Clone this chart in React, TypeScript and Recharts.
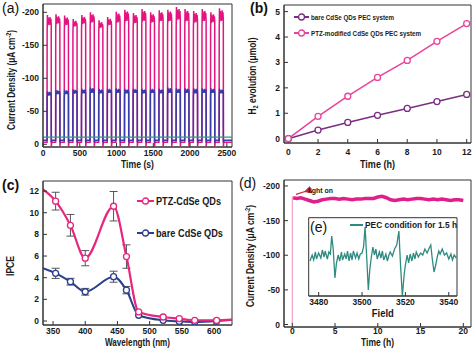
import React from "react";
import { LineChart, Line, XAxis, YAxis, ReferenceArea, ErrorBar } from "recharts";

const FONT = '"Liberation Sans", Arial, sans-serif';
const AXIS = "#333";
const TICK = { fontSize: 8.5, fontWeight: 700, fontFamily: FONT, fill: "#1a1a1a" };

// ---------- (a) transient photocurrent, on/off cycles ----------
const pulseStarts = [55, 172, 289, 406, 523, 640, 757, 874, 991, 1108, 1225, 1342, 1459, 1576, 1693, 1810, 1927, 2044, 2161, 2278, 2395];
const pinkPeak = [196, 197, 195, 190, 196, 200, 188, 193, 201, 204, 199, 205, 200, 203, 204, 208, 205, 202, 205, 200, 206];
const pinkLevel = [180, 182, 180, 178, 182, 184, 176, 180, 184, 186, 183, 186, 184, 186, 186, 188, 186, 184, 186, 184, 186];
const bluePeak = [80, 82, 82, 83, 84, 86, 84, 84, 85, 84, 84, 84, 84, 84, 86, 85, 85, 85, 85, 85, 84];
const blueLevel = [74, 76, 76, 77, 77, 78, 77, 78, 78, 77, 78, 77, 78, 77, 78, 78, 78, 77, 78, 78, 77];
const darkLevel = -11;
const pinkOff = -3;
const blueOff = -6;

const aRows: any[] = [{ t: 0, pink: pinkOff, blue: blueOff, teal: darkLevel }];
pulseStarts.forEach((s, i) => {
  const pk = pinkPeak[i], pl = pinkLevel[i], bk = bluePeak[i], bl = blueLevel[i];
  aRows.push(
    { t: s, pink: pinkOff, blue: blueOff, teal: darkLevel },
    { t: s + 1, pink: -(pl - 10), blue: -(bl - 6), teal: darkLevel },
    { t: s + 5, pink: -pk, blue: -bk, teal: darkLevel },
    { t: s + 10, pink: -pl, blue: -bl, teal: darkLevel },
    { t: s + 16, pink: -(pk - 4), blue: -(bk - 2), teal: darkLevel },
    { t: s + 22, pink: -(pl + 3), blue: -bl, teal: darkLevel },
    { t: s + 28, pink: -(pk - 8), blue: -(bk - 3), teal: darkLevel },
    { t: s + 34, pink: -(pl + 1), blue: -(bl + 1), teal: darkLevel },
    { t: s + 40, pink: -(pk - 3), blue: -(bk - 1), teal: darkLevel },
    { t: s + 46, pink: -(pl + 4), blue: -bl, teal: darkLevel },
    { t: s + 52, pink: -(pk - 6), blue: -(bk - 2), teal: darkLevel },
    { t: s + 57, pink: -(pl + 2), blue: -(bl + 1), teal: darkLevel },
    { t: s + 58, pink: 3, blue: -3, teal: darkLevel },
    { t: s + 64, pink: pinkOff, blue: blueOff, teal: darkLevel }
  );
});
aRows.push({ t: 2570, pink: pinkOff, blue: blueOff, teal: darkLevel });

// ---------- (b) H2 evolution ----------
const bTime = [0, 2, 4, 6, 8, 10, 12];
const bBare = [0, 0.34, 0.64, 0.92, 1.19, 1.46, 1.74];
const bPtz = [0, 0.88, 1.67, 2.41, 3.08, 3.83, 4.53];
const bRows = bTime.map((t, i) => ({ t, bare: bBare[i], ptz: bPtz[i] }));

// ---------- (c) IPCE ----------
const cWave = [334.4, 354, 377, 400, 444, 464, 483, 521, 546, 570, 604, 627.9];
const cPtz = [12.15, 11.07, 8.84, 5.8, 10.6, 5.95, 0.84, 0.37, 0.22, 0.06, 0.05, 0.12];
const cPtzErr = [null, 0.82, 1.0, 0.7, 1.36, 1.08, null, null, null, null, null, null];
const cBare = [4.87, 4.4, 3.63, 2.7, 4.09, 2.85, 0.53, 0.06, -0.03, -0.09, 0, 0.12];
const cBareErr = [null, 0.47, 0.31, 0.31, 0.51, 0.34, null, null, null, null, null, null];
const cMarked = [false, true, true, true, true, true, true, true, true, true, true, false];
const cRows = cWave.map((w, i) => ({
  w, ptz: cPtz[i], ptzErr: cPtzErr[i] ?? undefined, bare: cBare[i], bareErr: cBareErr[i] ?? undefined, mark: cMarked[i],
}));

// ---------- (d) long-term stability ----------
const dTime = [0.1, 0.5, 1, 1.5, 2, 2.5, 3, 3.5, 4, 4.5, 5, 5.5, 6, 6.5, 7, 7.5, 8, 8.5, 9, 9.5, 10, 10.5, 11, 11.5, 12, 12.5, 13, 13.5, 14, 14.5, 15, 15.5, 16, 16.5, 17, 17.5, 18, 18.5, 19, 19.5, 20];
const dCurrent = [-183, -182, -183, -181, -179, -177, -178, -180, -181, -182, -182, -181, -182, -181, -180, -181, -181, -182, -182, -182, -184, -185, -183, -180, -179, -180, -181, -180, -181, -182, -182, -181, -180, -181, -180, -181, -180, -179, -180, -180, -179];
const dRows = dTime.map((t, i) => ({ t, j: dCurrent[i] }));
const dRise = [{ t: 0, j: 0 }, { t: 0, j: -185 }];

// ---------- (e) EPR inset ----------
const eField = [3476, 3477, 3477.7, 3478.5, 3479, 3480, 3481, 3481.7, 3482.5, 3483, 3484, 3484.7, 3485.4, 3486, 3486.7, 3487.5, 3488.2, 3489, 3489.7, 3490.5, 3491, 3492, 3492.7, 3493.3, 3494, 3494.7, 3495.4, 3496, 3497, 3497.7, 3498.5, 3499.2, 3500, 3500.7, 3501.4, 3502.1, 3502.9, 3503.6, 3504.3, 3505, 3505.7, 3506.4, 3507, 3508, 3508.7, 3509.4, 3510, 3511, 3511.7, 3512.4, 3513, 3514, 3515, 3516, 3517, 3517.8, 3518.6, 3519.4, 3520, 3520.8, 3521.5, 3522.2, 3523, 3523.7, 3524.4, 3525, 3526, 3527, 3528, 3529, 3530, 3531, 3531.7, 3532.4, 3533.2, 3534, 3534.7, 3535.4, 3536, 3537, 3538, 3539, 3540, 3541, 3541.7, 3542.5, 3543.5];
const eSignal = [-4, 2, -3, 5, -2, 4, -1, 7, 0, 6, -2, 5, 3, 21, 8, -21, -6, 2, -4, 5, -3, 3, -2, 6, -4, 4, -3, 6, -1, 4, -2, 3, 4, 10, 30, 2, -33, -12, 0, 10, 2, 8, -2, 5, -1, 6, -3, 3, -4, 2, 5, 1, 8, 12, 26, -10, -39, -18, -8, 2, -6, 3, -4, 4, -2, 5, 0, 4, 2, 8, 4, 9, 12, -2, -15, -8, 0, 6, 3, 8, 2, 4, -2, 3, -3, 2, -1];
const eRows = eField.map((f, i) => ({ f, s: eSignal[i] }));

const TITLE = { fontFamily: FONT, fontSize: 10.5, fontWeight: 700, fill: "#1a1a1a" };

const VTitle = ({ viewBox, dx, dy, len, children }: any) => {
  const cx = viewBox.x + dx;
  const cy = viewBox.y + viewBox.height / 2 + dy;
  return (
    <text x={cx} y={cy} transform={`rotate(-90 ${cx} ${cy})`} textAnchor="middle" dominantBaseline="central"
      textLength={len} lengthAdjust="spacingAndGlyphs" style={TITLE}>
      {children}
    </text>
  );
};

const HTitle = ({ viewBox, y, len, children }: any) => (
  <text x={viewBox.x + viewBox.width / 2} y={y} textAnchor="middle" dominantBaseline="central"
    textLength={len} lengthAdjust="spacingAndGlyphs" style={TITLE}>
    {children}
  </text>
);

const CurrentTitle = (
  <>
    <tspan>Current Density (μA cm</tspan>
    <tspan dy={-3.5} fontSize={7}>-2</tspan>
    <tspan dy={3.5}>)</tspan>
  </>
);

function minorAxes(xd: number[], xm: number[], yd: number[], ym: number[], yRev = false) {
  return [
    <XAxis key="mx" xAxisId="m" type="number" domain={xd} allowDataOverflow ticks={xm} tick={false} tickSize={-2}
      axisLine={false} height={0} stroke={AXIS} />,
    <YAxis key="my" yAxisId="m" type="number" domain={yd} allowDataOverflow ticks={ym} tick={false} tickSize={-2}
      axisLine={false} width={0} reversed={yRev} stroke={AXIS} />,
  ];
}

const circleDot = (color: string) => (p: any) => {
  if (p.payload && p.payload.mark === false) return <g key={p.index} />;
  return <circle key={p.index} cx={p.cx} cy={p.cy} r={3} fill="#fff" stroke={color} strokeWidth={1.3} />;
};

// legend entry: line + open circle sample, then squeezed bold text
const LegendRow = ({ color, label, size, lineW, len, marker = true }: any) => (
  <svg width={lineW + len + 40} height={14} style={{ display: "block", overflow: "visible" }}>
    <line x1={0} y1={7} x2={lineW} y2={7} stroke={color} strokeWidth={2} />
    {marker && <circle cx={lineW / 2} cy={7} r={3} fill="#fff" stroke={color} strokeWidth={1.3} />}
    <text x={lineW + 2} y={7} dominantBaseline="central" textLength={len} lengthAdjust="spacingAndGlyphs"
      style={{ fontSize: size, fontWeight: 700, fontFamily: FONT, fill: "#1a1a1a" }}>
      {label}
    </text>
  </svg>
);

const PanelTag = ({ x, y, text, bold }: any) => (
  <div style={{ position: "absolute", left: x, top: y, fontFamily: FONT, fontSize: 14, fontWeight: bold ? 700 : 400, lineHeight: "15px", color: "#111" }}>
    {text}
  </div>
);

export default function App() {
  const aX = [0, 2570], aY = [-212.6, 4.1];
  const bX = [-0.29, 12.29], bY = [-0.17, 5.26];
  const cX = [334.4, 627.9], cY = [-0.37, 12.93];
  const dX = [-0.97, 20.9], dY = [-208.6, 3.6];
  const eX = [3475.4, 3543.8], eY = [-39, 39.3];

  return (
    <div style={{ position: "absolute", left: 0, top: 0, width: 474, height: 352, background: "#fff", overflow: "hidden" }}>
      {/* (a) */}
      <div style={{ position: "absolute", left: 0, top: 0 }}>
        <LineChart width={240} height={176} data={aRows} margin={{ top: 4, right: 8, left: 0, bottom: 0 }}>
          {minorAxes(aX, [250, 750, 1250, 1750, 2250], aY, [-175, -125, -75, -25], true)}
          <XAxis dataKey="t" type="number" domain={aX} allowDataOverflow ticks={[0, 500, 1000, 1500, 2000, 2500]}
            height={29} tickSize={-4} tickMargin={7} tick={TICK} stroke={AXIS}
            label={{ content: (p: any) => <HTitle viewBox={p.viewBox} y={164} len={33}>Time (s)</HTitle> }} />
          <YAxis type="number" domain={aY} allowDataOverflow reversed ticks={[-200, -150, -100, -50, 0]} width={43}
            tickSize={-4} tickMargin={8} tick={TICK} stroke={AXIS}
            label={{ content: (p: any) => <VTitle viewBox={p.viewBox} dx={11} dy={4.5} len={100}>{CurrentTitle}</VTitle> }} />
          <ReferenceArea x1={aX[0]} x2={aX[1]} y1={aY[0]} y2={aY[1]} fill="none" stroke={AXIS} ifOverflow="visible" />
          <Line dataKey="pink" stroke="#e3137f" strokeWidth={1.5} dot={false} isAnimationActive={false} />
          <Line dataKey="blue" stroke="#3a3aa6" strokeWidth={1.5} dot={false} isAnimationActive={false} />
          <Line dataKey="teal" stroke="#2a9a8c" strokeWidth={1.3} dot={false} isAnimationActive={false} />
        </LineChart>
      </div>

      {/* (b) */}
      <div style={{ position: "absolute", left: 237, top: 0 }}>
        <LineChart width={237} height={176} data={bRows} margin={{ top: 5, right: 3, left: 0, bottom: 0 }}>
          {minorAxes(bX, [1, 3, 5, 7, 9, 11], bY, [0.5, 1.5, 2.5, 3.5, 4.5])}
          <XAxis dataKey="t" type="number" domain={bX} allowDataOverflow ticks={[0, 2, 4, 6, 8, 10, 12]}
            height={33} tickSize={-4} tickMargin={10} tick={TICK} stroke={AXIS}
            label={{ content: (p: any) => <HTitle viewBox={p.viewBox} y={164} len={35}>Time (h)</HTitle> }} />
          <YAxis type="number" domain={bY} allowDataOverflow ticks={[0, 1, 2, 3, 4, 5]} width={47}
            tickSize={-4} tickMargin={8} tick={TICK} stroke={AXIS}
            label={{
              content: (p: any) => (
                <VTitle viewBox={p.viewBox} dx={15} dy={2} len={77}>
                  <tspan>H</tspan><tspan dy={3} fontSize={7}>2</tspan><tspan dy={-3}> evolution (μmol)</tspan>
                </VTitle>
              ),
            }} />
          <ReferenceArea x1={bX[0]} x2={bX[1]} y1={bY[0]} y2={bY[1]} fill="none" stroke={AXIS} ifOverflow="visible" />
          <Line dataKey="bare" stroke="#7a2e80" strokeWidth={1.5} dot={circleDot("#7a2e80")} isAnimationActive={false} />
          <Line dataKey="ptz" stroke="#e8449a" strokeWidth={1.5} dot={circleDot("#e8449a")} isAnimationActive={false} />
        </LineChart>
        <div style={{ position: "absolute", left: 57, top: 10 }}>
          <LegendRow color="#7a2e80" label="bare CdSe QDs PEC system" size={7.5} lineW={15} len={83} />
          <div style={{ height: 2 }} />
          <LegendRow color="#e8449a" label="PTZ-modified CdSe QDs PEC system" size={7.5} lineW={15} len={110} />
        </div>
      </div>

      {/* (c) */}
      <div style={{ position: "absolute", left: 0, top: 176 }}>
        <LineChart width={240} height={176} data={cRows} margin={{ top: 5, right: 8, left: 0, bottom: 0 }}>
          {minorAxes(cX, [375, 425, 475, 525, 575, 625], cY, [1, 3, 5, 7, 9, 11])}
          <XAxis dataKey="w" type="number" domain={cX} allowDataOverflow ticks={[350, 400, 450, 500, 550, 600]}
            height={27} tickSize={-4} tickMargin={7} tick={TICK} stroke={AXIS}
            label={{ content: (p: any) => <HTitle viewBox={p.viewBox} y={166} len={65}>Wavelength (nm)</HTitle> }} />
          <YAxis type="number" domain={cY} allowDataOverflow ticks={[0, 2, 4, 6, 8, 10, 12]} width={43}
            tickSize={-4} tickMargin={8} tick={TICK} stroke={AXIS}
            label={{ content: (p: any) => <VTitle viewBox={p.viewBox} dx={10} dy={13} len={20}>IPCE</VTitle> }} />
          <ReferenceArea x1={cX[0]} x2={cX[1]} y1={cY[0]} y2={cY[1]} fill="none" stroke={AXIS} ifOverflow="visible" />
          <Line dataKey="bare" type="monotone" stroke="#2c3f8c" strokeWidth={2} dot={circleDot("#2c3f8c")} isAnimationActive={false}>
            <ErrorBar dataKey="bareErr" direction="y" width={4} stroke="#555" strokeWidth={1} />
          </Line>
          <Line dataKey="ptz" type="monotone" stroke="#e6267f" strokeWidth={2.2} dot={circleDot("#e6267f")} isAnimationActive={false}>
            <ErrorBar dataKey="ptzErr" direction="y" width={4} stroke="#555" strokeWidth={1} />
          </Line>
        </LineChart>
        <div style={{ position: "absolute", left: 137, top: 18 }}>
          <LegendRow color="#e6267f" label="PTZ-CdSe QDs" size={10} lineW={17} len={65} />
          <div style={{ height: 18 }} />
          <LegendRow color="#2c3f8c" label="bare CdSe QDs" size={10} lineW={17} len={67} />
        </div>
      </div>

      {/* (d) */}
      <div style={{ position: "absolute", left: 237, top: 176 }}>
        <LineChart width={237} height={176} margin={{ top: 4, right: 3, left: 0, bottom: 0 }}>
          {minorAxes(dX, [2.5, 7.5, 12.5, 17.5], dY, [-175, -125, -75, -25], true)}
          <XAxis dataKey="t" type="number" domain={dX} allowDataOverflow ticks={[0, 5, 10, 15, 20]}
            height={25} tickSize={-4} tickMargin={5} tick={TICK} stroke={AXIS}
            label={{ content: (p: any) => <HTitle viewBox={p.viewBox} y={166} len={33}>Time (h)</HTitle> }} />
          <YAxis type="number" domain={dY} allowDataOverflow reversed ticks={[-200, -150, -100, -50, 0]} width={47}
            tickSize={-4} tickMargin={8} tick={TICK} stroke={AXIS}
            label={{ content: (p: any) => <VTitle viewBox={p.viewBox} dx={13} dy={2.5} len={102}>{CurrentTitle}</VTitle> }} />
          <ReferenceArea x1={dX[0]} x2={dX[1]} y1={dY[0]} y2={dY[1]} fill="none" stroke={AXIS} ifOverflow="visible" />
          <Line data={dRise} dataKey="j" stroke="#f08cbc" strokeWidth={1} dot={false} isAnimationActive={false} />
          <Line data={dRows} dataKey="j" stroke="#e0208a" strokeWidth={3.5} dot={false} isAnimationActive={false} />
        </LineChart>
        <svg width={237} height={176} style={{ position: "absolute", left: 0, top: 0, pointerEvents: "none" }}>
          <defs>
            <marker id="arr" markerWidth="6" markerHeight="6" refX="1" refY="3" orient="auto-start-reverse">
              <path d="M6,0 L0,3 L6,6 Z" fill="#c0283c" />
            </marker>
          </defs>
          <line x1={68} y1={15.5} x2={59} y2={18.3} stroke="#c0283c" strokeWidth={1.3} markerStart="url(#arr)" />
          <text x={71} y={14.5} dominantBaseline="central" textLength={25} lengthAdjust="spacingAndGlyphs"
            style={{ fontFamily: FONT, fontSize: 7.5, fontWeight: 700, fill: "#1a1a1a" }}>light on</text>
        </svg>
      </div>

      {/* (e) inset */}
      <div style={{ position: "absolute", left: 300, top: 210 }}>
        <LineChart width={165} height={110} data={eRows} margin={{ top: 7.7, right: 8, left: 8.7, bottom: 0 }}>
          <XAxis xAxisId="m" type="number" domain={eX} allowDataOverflow ticks={[3490, 3510, 3530]} tick={false}
            tickSize={-2} axisLine={false} height={0} stroke={AXIS} />
          <XAxis dataKey="f" type="number" domain={eX} allowDataOverflow ticks={[3480, 3500, 3520, 3540]}
            height={24} tickSize={-4} tickMargin={7} tick={TICK} stroke={AXIS}
            label={{ content: (p: any) => <HTitle viewBox={p.viewBox} y={103} len={22}>Field</HTitle> }} />
          <YAxis type="number" domain={eY} allowDataOverflow hide />
          <ReferenceArea x1={eX[0]} x2={eX[1]} y1={eY[0]} y2={eY[1]} fill="none" stroke={AXIS} ifOverflow="visible" />
          <Line dataKey="s" stroke="#2e8b80" strokeWidth={1.3} dot={false} isAnimationActive={false} />
        </LineChart>
        <div style={{ position: "absolute", left: 50, top: 8 }}>
          <LegendRow color="#2e8b80" label="PEC condition for 1.5 h" size={9} lineW={13} len={92} marker={false} />
        </div>
        <PanelTag x={10} y={10} text="(e)" />
      </div>

      <PanelTag x={2} y={1} text="(a)" />
      <PanelTag x={250} y={1} text="(b)" bold />
      <PanelTag x={2} y={178} text="(c)" bold />
      <PanelTag x={239} y={176} text="(d)" />
    </div>
  );
}
